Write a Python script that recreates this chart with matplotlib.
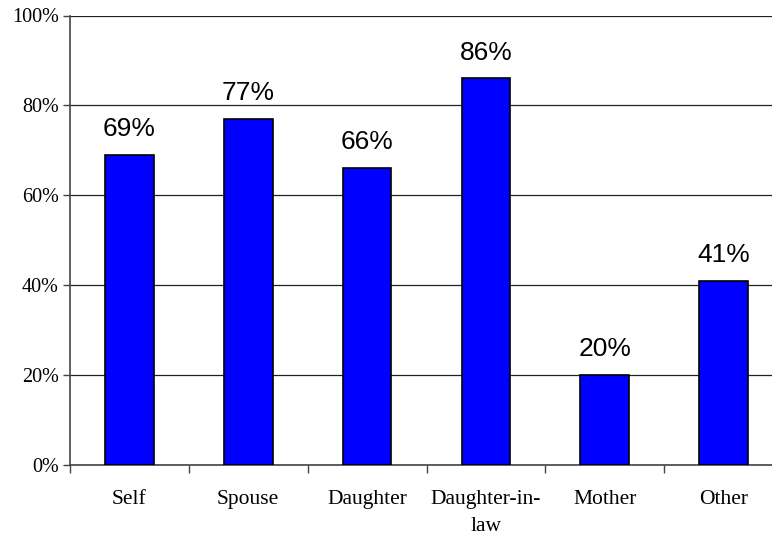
import matplotlib.pyplot as plt
import numpy as np

categories = ["Self", "Spouse", "Daughter", "Daughter-in-\nlaw", "Mother", "Other"]
shares = [0.69, 0.77, 0.66, 0.86, 0.20, 0.41]
y_ticks = [0.0, 0.2, 0.4, 0.6, 0.8, 1.0]
y_labels = ["0%", "20%", "40%", "60%", "80%", "100%"]

W, H = 772, 536
fig = plt.figure(figsize=(W / 100, H / 100), dpi=100)
ax = fig.add_axes([70 / W, 71 / H, 713 / W, 449.5 / H])

x = np.arange(len(categories))
ax.bar(x, shares, width=0.41, color="#0000ff", edgecolor="black",
       linewidth=1.2, zorder=3)

for xi, v in zip(x, shares):
    ax.annotate(f"{v:.0%}", (xi, v), xytext=(0, 10), textcoords="offset points",
                ha="center", va="bottom", fontsize=19,
                family="Liberation Sans", zorder=4)

ax.set_xlim(-0.5, len(categories) - 0.5)
ax.set_ylim(0, 1.0)

ax.set_yticks(y_ticks)
ax.set_yticklabels(y_labels, family="Liberation Serif", fontsize=14.5)
ax.yaxis.grid(True, color="#222222", linewidth=0.9, zorder=0)
ax.tick_params(axis="y", direction="out", length=5, width=1, color="#444444", pad=3)

# boundaries get the tick marks, category centres get the labels
ax.set_xticks(np.arange(len(categories) + 1) - 0.5)
ax.set_xticklabels([])
ax.tick_params(axis="x", which="major", direction="out", length=6, width=1,
               color="#444444")
ax.set_xticks(x, minor=True)
ax.set_xticklabels(categories, minor=True, family="Liberation Serif",
                   fontsize=15.5, linespacing=1.6)
ax.tick_params(axis="x", which="minor", length=0, pad=18)

for side in ("top", "right"):
    ax.spines[side].set_visible(False)
for side in ("left", "bottom"):
    ax.spines[side].set_color("#444444")
    ax.spines[side].set_linewidth(1.2)

fig.savefig("out.png", dpi=100)
